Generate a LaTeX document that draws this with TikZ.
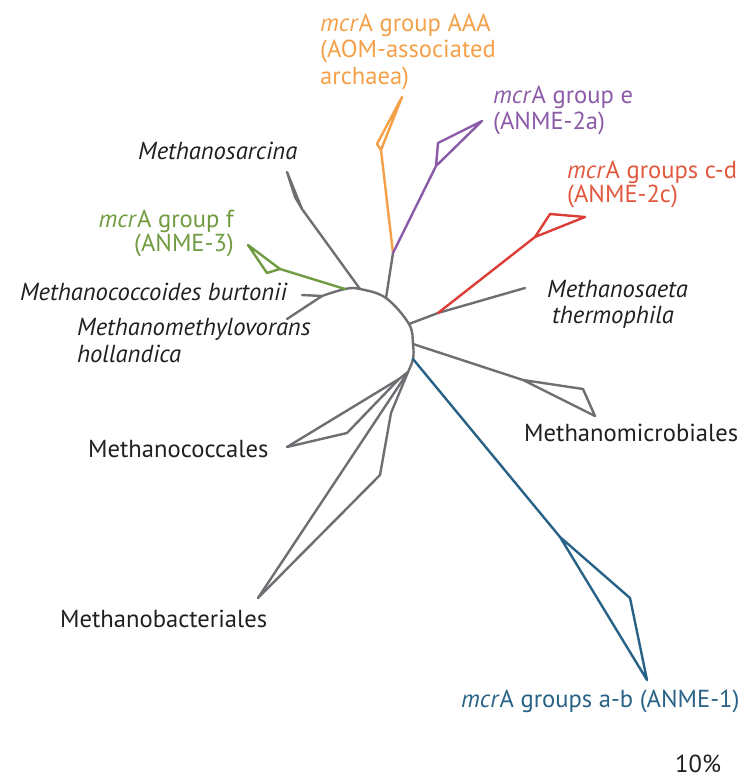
\documentclass[tikz,border=0pt]{standalone}
\usepackage{fontspec}
\setmainfont{PT Sans}
\definecolor{tgray}{RGB}{110,111,115}
\definecolor{torange}{RGB}{243,160,72}
\definecolor{tpurple}{RGB}{139,90,168}
\definecolor{tred}{RGB}{220,62,55}
\definecolor{tredtext}{RGB}{226,88,62}
\definecolor{tgreen}{RGB}{112,155,64}
\definecolor{tblue}{RGB}{40,98,135}
\definecolor{tblack}{RGB}{35,31,32}
\tikzset{
  branch/.style={line width=2.4pt, line join=round, line cap=round},
  lab/.style={font=\fontsize{24.6}{26}\selectfont, inner sep=0pt, text=tblack},
}
\begin{document}
\begin{tikzpicture}[x=1pt,y=-1pt]
\useasboundingbox (0,0) rectangle (742,781);
% backbone
\coordinate (m1) at (322,296);
\coordinate (a0) at (345,289);
\coordinate (a1) at (360,289);
\coordinate (a2) at (386,298);
\coordinate (a3) at (409,324);
\coordinate (a4) at (413,344);
\coordinate (a5) at (413,359);
\coordinate (a6) at (408,372);
% leaves and inner points
\coordinate (ml1) at (302,295);
\coordinate (ml2) at (287,319);
\coordinate (mc) at (399,379);
\coordinate (mcT) at (287,447);
\coordinate (mcC) at (347,433);
\coordinate (mbA) at (391,413);
\coordinate (mbC) at (380,475);
\coordinate (mbT) at (258,598);
\coordinate (bJ) at (560,537);
\coordinate (bC) at (630,598);
\coordinate (bT) at (647,680);
\coordinate (mN) at (523,380);
\coordinate (mC) at (583,389);
\coordinate (mT) at (595,416);
\coordinate (s1) at (438,313);
\coordinate (sL) at (525,288);
\coordinate (rN) at (535,237);
\coordinate (rC) at (550,214);
\coordinate (rT) at (585,217);
\coordinate (op) at (393,253);
\coordinate (oN) at (381,150);
\coordinate (oC) at (377,144);
\coordinate (oT) at (402,97);
\coordinate (pN) at (436,166);
\coordinate (pC) at (438,143);
\coordinate (pT) at (482,121);
\coordinate (sN) at (302,209);
\coordinate (sC) at (295,197);
\coordinate (sT) at (287,172);
\coordinate (gN) at (280,269);
\coordinate (gC) at (267,273);
\coordinate (gT) at (248,245);

\begin{scope}[branch, tgray]
\draw plot[smooth, tension=0.6] coordinates {(m1) (a0) (a1) (a2) (a3) (a4) (a5) (a6)};
\draw (m1) -- (ml1);
\draw (m1) -- (ml2);
\draw (a6) -- (mc) -- (mcT);
\draw (mc) -- (mcC) -- (mcT);
\draw (a6) -- (mbA) -- (mbC) -- (mbT);
\draw (a6) -- (mbT);
\draw (a4) -- (mN) -- (mC) -- (mT) -- (mN);
\draw (a3) -- (s1) -- (sL);
\draw (a2) -- (op);
\draw (a1) -- (sN) -- (sC) -- (sT) -- (sN);
\end{scope}
\draw[branch, tblue] (a5) -- (bJ) -- (bC) -- (bT) -- (bJ);
\draw[branch, tred] (s1) -- (rN) -- (rC) -- (rT) -- (rN);
\draw[branch, torange] (op) -- (oN) -- (oC) -- (oT) -- (oN);
\draw[branch, tpurple] (op) -- (pN) -- (pC) -- (pT) -- (pN);
\draw[branch, tgreen] (a0) -- (gN) -- (gC) -- (gT) -- (gN);

% labels
\node[lab, text=torange, anchor=base west] (o1) at (320,32) {\textit{mcr}A group AAA};
\node[lab, text=torange, anchor=base west] (o2) at (320,58) {(AOM-associated};
\node[lab, text=torange, anchor=base west] (o3) at (320,85) {archaea)};
\node[lab, text=tpurple, anchor=base west] (p1) at (493,103) {\textit{mcr}A group e};
\node[lab, text=tpurple, anchor=base west] (p2) at (493,129) {(ANME-2a)};
\node[lab, text=tredtext, anchor=base west] (r1) at (567,178) {\textit{mcr}A groups c-d};
\node[lab, text=tredtext, anchor=base west] (r2) at (567,202) {(ANME-2c)};
\node[lab, anchor=base west] (ms1) at (547,297) {\textit{Methanosaeta}};
\node[lab, anchor=base west] (ms2) at (552,323) {\textit{thermophila}};
\node[lab, anchor=base west] (mm) at (524,441) {Methanomicrobiales};
\node[lab, text=tblue, anchor=base west] (b1) at (461,707) {\textit{mcr}A groups a-b (ANME-1)};
\node[lab, anchor=base west] (pct) at (675,772) {10\%};
\node[lab, anchor=base west] (mcl) at (88,457) {Methanococcales};
\node[lab, anchor=base west] (mbl) at (60,627) {Methanobacteriales};
\node[lab, anchor=base west] (msa) at (138,159) {\textit{Methanosarcina}};
\node[lab, text=tgreen, anchor=base east] (g1) at (234,227) {\textit{mcr}A group f};
\node[lab, text=tgreen, anchor=base east] (g2) at (234,251) {(ANME-3)};
\node[lab, anchor=base west] (mcb) at (20,300) {\textit{Methanococcoides burtonii}};
\node[lab, anchor=base west] (mmh1) at (77,335) {\textit{Methanomethylovorans}};
\node[lab, anchor=base west] (mmh2) at (77,362) {\textit{hollandica}};
\end{tikzpicture}
\end{document}
